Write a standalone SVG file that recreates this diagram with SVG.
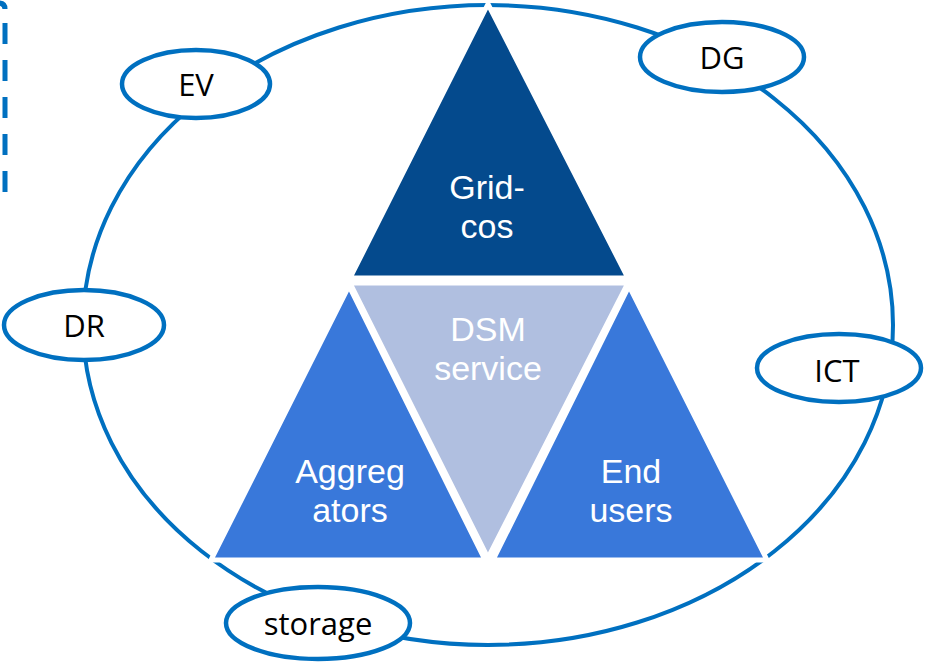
<svg xmlns="http://www.w3.org/2000/svg" width="925" height="664" viewBox="0 0 925 664">
  <style>
    .ring { fill: none; stroke: #0070C0; stroke-width: 4; }
    .bubble { fill: #FFFFFF; stroke: #0070C0; stroke-width: 4.5; }
    .blabel { font-family: "Open Sans", "Noto Sans", sans-serif; font-size: 31px; fill: #000000; text-anchor: middle; }
    .tri { stroke: #FFFFFF; stroke-width: 5; stroke-linejoin: miter; }
    .tlabel { font-family: "Liberation Sans", Arial, sans-serif; font-size: 34px; fill: #FFFFFF; text-anchor: middle; }
  </style>

  <!-- dashed frame edge on the left -->
  <g id="frame-edge" fill="none" stroke="#0070C0" stroke-width="5">
    <path d="M -2 3 Q 5 3 5 9"/>
    <line x1="5" y1="23" x2="5" y2="195" stroke-dasharray="21 16"/>
  </g>

  <!-- outer ring -->
  <g id="connectors">
    <ellipse class="ring" cx="488" cy="325" rx="405" ry="320"/>
  </g>

  <!-- central triangles -->
  <g id="grid-cos">
    <polygon class="tri" points="488,4 350,278 628,278" fill="#044A8D"/>
    <text class="tlabel" x="487" y="199">Grid-</text>
    <text class="tlabel" x="487" y="238">cos</text>
  </g>
  <g id="dsm-service">
    <polygon class="tri" points="350,283 628,283 488,558" fill="#B0BFE0"/>
    <text class="tlabel" x="488" y="341">DSM</text>
    <text class="tlabel" x="488" y="380">service</text>
  </g>
  <g id="aggregators">
    <polygon class="tri" points="349,286 485,560 211,560" fill="#3978DA"/>
    <text class="tlabel" x="350" y="483">Aggreg</text>
    <text class="tlabel" x="350" y="522">ators</text>
  </g>
  <g id="end-users">
    <polygon class="tri" points="629,286 767,560 493,560" fill="#3978DA"/>
    <text class="tlabel" x="631" y="483">End</text>
    <text class="tlabel" x="631" y="522">users</text>
  </g>

  <!-- satellite bubbles on the ring -->
  <g id="ev">
    <ellipse class="bubble" cx="196" cy="84" rx="74" ry="34"/>
    <text class="blabel" x="196" y="96">EV</text>
  </g>
  <g id="dg">
    <ellipse class="bubble" cx="722" cy="57" rx="82" ry="35"/>
    <text class="blabel" x="722" y="69">DG</text>
  </g>
  <g id="dr">
    <ellipse class="bubble" cx="84" cy="325" rx="80" ry="35"/>
    <text class="blabel" x="84" y="337">DR</text>
  </g>
  <g id="ict">
    <ellipse class="bubble" cx="839" cy="368" rx="82" ry="34"/>
    <text class="blabel" x="837" y="382">ICT</text>
  </g>
  <g id="storage">
    <ellipse class="bubble" cx="318" cy="623" rx="92" ry="36"/>
    <text class="blabel" x="318" y="635">storage</text>
  </g>
</svg>
